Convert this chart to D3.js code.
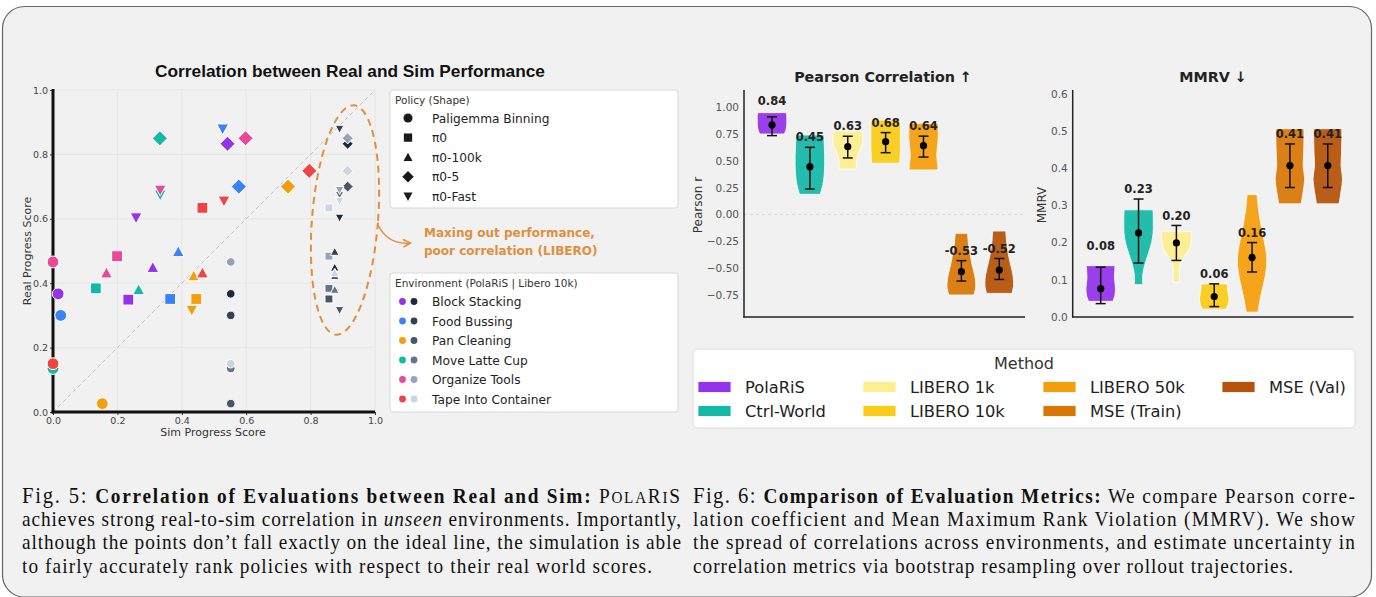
<!DOCTYPE html>
<html>
<head>
<meta charset="utf-8">
<script src="https://cdn.jsdelivr.net/npm/d3@7"></script>
<style>
  body { margin: 0; background: #fff; }
  svg { display: block; }
  text { font-family: "DejaVu Sans", sans-serif; }
</style>
</head>
<body>
<svg id="fig" width="1376" height="597"></svg>
<script>
// ---- scatter data (real vs sim progress) ----
var envs = ["Block Stacking", "Food Bussing", "Pan Cleaning", "Move Latte Cup", "Organize Tools", "Tape Into Container"];
var polarisColors = ["#9333ea", "#3b82f6", "#f59e0b", "#14b8a6", "#ec4899", "#ef4444"];
var liberoColors = ["#1e293b", "#334155", "#475569", "#64748b", "#94a3b8", "#cbd5e1"];
var policies = ["Paligemma Binning", "π0", "π0-100k", "π0-5", "π0-Fast"];
var policyShapes = ["circle", "square", "triUp", "diamond", "triDown"];

// one row per policy, one value per environment (same order as envs)
var realScore = [
  [0.367, 0.300, 0.026, 0.135, 0.466, 0.150],
  [0.349, 0.351, 0.351, 0.384, 0.484, 0.634],
  [0.449, 0.498, 0.423, 0.380, 0.432, 0.432],
  [0.833, 0.700, 0.700, 0.850, 0.850, 0.749],
  [0.603, 0.879, 0.316, 0.674, 0.689, 0.655]
];
var polarisSim = [
  [0.016, 0.024, 0.153, 0.000, 0.000, 0.000],
  [0.234, 0.364, 0.445, 0.133, 0.199, 0.464],
  [0.310, 0.389, 0.437, 0.266, 0.166, 0.464],
  [0.542, 0.577, 0.730, 0.332, 0.598, 0.796],
  [0.258, 0.527, 0.431, 0.333, 0.333, 0.531]
];
var liberoSim = [
  [0.552, 0.552, 0.552, 0.552, 0.552, 0.552],
  [0.857, 0.857, 0.857, 0.857, 0.857, 0.857],
  [0.875, 0.875, 0.875, 0.875, 0.875, 0.875],
  [0.915, 0.915, 0.915, 0.915, 0.915, 0.915],
  [0.890, 0.890, 0.890, 0.890, 0.890, 0.890]
];
var scatterTicks = [0, 0.2, 0.4, 0.6, 0.8, 1.0];

// ---- metric data (violins) ----
var methods = ["PolaRiS", "Ctrl-World", "LIBERO 1k", "LIBERO 10k", "LIBERO 50k", "MSE (Train)", "MSE (Val)"];
var methodColors = ["#9333ea", "#14b8a6", "#fdef8e", "#facc15", "#f59e0b", "#d97706", "#b45309"];

var pearsonMean = [0.835, 0.446, 0.632, 0.679, 0.641, -0.533, -0.517];
var pearsonText = ["0.84", "0.45", "0.63", "0.68", "0.64", "-0.53", "-0.52"];
var pearsonLo = [0.735, 0.238, 0.527, 0.576, 0.535, -0.620, -0.605];
var pearsonHi = [0.910, 0.626, 0.729, 0.763, 0.730, -0.430, -0.410];
var pearsonMin = [0.750, 0.188, 0.424, 0.477, 0.415, -0.750, -0.735];
var pearsonMax = [0.949, 0.741, 0.778, 0.880, 0.850, -0.175, -0.154];
// relative violin width, bottom -> top
var pearsonShape = [
  [0.82, 0.93, 0.98, 1, 1, 1, 0.98],
  [0.70, 0.88, 0.97, 1, 1, 0.97, 0.94],
  [0.58, 0.58, 0.62, 0.75, 0.92, 1, 1, 0.96],
  [0.94, 0.98, 1, 1, 1, 1, 0.97],
  [0.98, 0.95, 0.90, 0.92, 0.97, 1, 1, 0.98],
  [0.85, 0.97, 0.95, 0.85, 0.72, 0.62, 0.52, 0.46, 0.42],
  [0.86, 0.97, 0.95, 0.86, 0.73, 0.62, 0.53, 0.48, 0.44]
];
var pearsonTicks = [-0.75, -0.5, -0.25, 0, 0.25, 0.5, 0.75, 1.0];

var mmrvMean = [0.076, 0.226, 0.199, 0.055, 0.160, 0.407, 0.407];
var mmrvText = ["0.08", "0.23", "0.20", "0.06", "0.16", "0.41", "0.41"];
var mmrvLo = [0.036, 0.145, 0.152, 0.028, 0.121, 0.348, 0.348];
var mmrvHi = [0.134, 0.317, 0.246, 0.089, 0.200, 0.465, 0.465];
var mmrvMin = [0.042, 0.087, 0.094, 0.021, 0.013, 0.304, 0.304];
var mmrvMax = [0.138, 0.288, 0.230, 0.089, 0.329, 0.506, 0.506];
var mmrvShape = [
  [0.82, 0.96, 1, 0.97, 0.93, 0.95, 0.97],
  [0.28, 0.28, 0.40, 0.60, 0.80, 0.95, 1, 1, 0.98],
  [0.20, 0.20, 0.22, 0.35, 0.70, 0.95, 1, 1],
  [0.80, 0.95, 1, 0.95, 0.90, 0.88],
  [0.40, 0.55, 0.75, 0.93, 1, 0.90, 0.72, 0.55, 0.42, 0.34],
  [0.76, 0.90, 1, 0.90, 0.93, 0.95, 0.95],
  [0.76, 0.90, 1, 0.90, 0.93, 0.95, 0.95]
];
var mmrvTicks = [0, 0.1, 0.2, 0.3, 0.4, 0.5, 0.6];

var svg = d3.select("#fig");
var orange = "#e0903c";

// outer rounded frame
svg.append("rect")
  .attr("x", 2.5).attr("y", 6.5).attr("width", 1369).attr("height", 590.5)
  .attr("rx", 22).attr("fill", "#f1f1f1").attr("stroke", "#666").attr("stroke-width", 1.2);

// marker shapes, w = nominal width in px
function markerPath(shape, w) {
  var h = w / 2;
  if (shape === "circle") return d3.symbol(d3.symbolCircle, Math.PI * h * h)();
  if (shape === "square") { var s = h * 0.92; return "M" + -s + "," + -s + "H" + s + "V" + s + "H" + -s + "Z"; }
  if (shape === "triUp") return "M0," + (-h) + "L" + h + "," + (h * 0.85) + "L" + (-h) + "," + (h * 0.85) + "Z";
  if (shape === "triDown") return "M0," + h + "L" + h + "," + (-h * 0.85) + "L" + (-h) + "," + (-h * 0.85) + "Z";
  var d = h * 1.28;
  return "M0," + (-d) + "L" + d + ",0L0," + d + "L" + (-d) + ",0Z";
}

// ================= scatter =================
var sx = d3.scaleLinear().domain([0, 1]).range([53, 375]);
var sy = d3.scaleLinear().domain([0, 1]).range([412, 90]);
var sc = svg.append("g");

sc.append("text").attr("x", 350).attr("y", 77).attr("text-anchor", "middle")
  .style("font-family", "'Liberation Sans', Arial, sans-serif")
  .style("font-weight", "bold").style("font-size", "17.3px").attr("fill", "#111")
  .text("Correlation between Real and Sim Performance");

scatterTicks.slice(1).forEach(function (t) {
  sc.append("line").attr("x1", sx(t)).attr("x2", sx(t)).attr("y1", sy(0)).attr("y2", sy(1))
    .attr("stroke", "#e3e3e3").attr("stroke-width", 0.8);
  sc.append("line").attr("x1", sx(0)).attr("x2", sx(1)).attr("y1", sy(t)).attr("y2", sy(t))
    .attr("stroke", "#e3e3e3").attr("stroke-width", 0.8);
});
// ideal line
sc.append("line").attr("x1", sx(0)).attr("y1", sy(0)).attr("x2", sx(1)).attr("y2", sy(1))
  .attr("stroke", "#c4c4c4").attr("stroke-width", 1).attr("stroke-dasharray", "4,3");

var xAx = sc.append("g").attr("transform", "translate(0,412)")
  .call(d3.axisBottom(sx).tickValues(scatterTicks).tickFormat(d3.format(".1f")).tickSize(3).tickPadding(2));
var yAx = sc.append("g").attr("transform", "translate(53,0)")
  .call(d3.axisLeft(sy).tickValues(scatterTicks).tickFormat(d3.format(".1f")).tickSize(3).tickPadding(2));
[xAx, yAx].forEach(function (a) {
  a.select(".domain").remove();
  a.selectAll("line").attr("stroke", "#444");
  a.selectAll("text").attr("fill", "#444").style("font-size", "9.5px").style("font-family", "'DejaVu Sans'");
});
sc.append("line").attr("x1", 53).attr("x2", 53).attr("y1", 89).attr("y2", 413.5).attr("stroke", "#111").attr("stroke-width", 3);
sc.append("line").attr("x1", 51.5).attr("x2", 375).attr("y1", 412).attr("y2", 412).attr("stroke", "#111").attr("stroke-width", 3);

sc.append("text").attr("x", 213).attr("y", 436).attr("text-anchor", "middle")
  .style("font-size", "11px").attr("fill", "#333").text("Sim Progress Score");
sc.append("text").attr("transform", "translate(31,251) rotate(-90)").attr("text-anchor", "middle")
  .style("font-size", "11px").attr("fill", "#333").text("Real Progress Score");

// points
var pts = [];
policies.forEach(function (p, pi) {
  envs.forEach(function (e, ei) {
    pts.push({ shape: policyShapes[pi], x: polarisSim[pi][ei], y: realScore[pi][ei], c: polarisColors[ei], w: 11.8 });
  });
});
policies.forEach(function (p, pi) {
  envs.forEach(function (e, ei) {
    pts.push({ shape: policyShapes[pi], x: liberoSim[pi][ei], y: realScore[pi][ei], c: liberoColors[ei], w: 8.6 });
  });
});
sc.selectAll("path.pt").data(pts).enter().append("path").attr("class", "pt")
  .attr("d", function (d) { return markerPath(d.shape, d.w); })
  .attr("transform", function (d) { return "translate(" + sx(d.x) + "," + sy(d.y) + ")"; })
  .attr("fill", function (d) { return d.c; })
  .attr("stroke", "#fff").attr("stroke-width", 1);

// annotation
sc.append("ellipse").attr("cx", 345).attr("cy", 220).attr("rx", 33).attr("ry", 115)
  .attr("transform", "rotate(4.5,345,220)")
  .attr("fill", "none").attr("stroke", orange).attr("stroke-width", 2).attr("stroke-dasharray", "7,5");
sc.append("path").attr("d", "M378,225 Q388,245 410,243").attr("fill", "none")
  .attr("stroke", orange).attr("stroke-width", 1.5);
sc.append("path").attr("d", "M403,239.5 L410.5,243 L403.5,247").attr("fill", "none")
  .attr("stroke", orange).attr("stroke-width", 1.5);
sc.append("text").attr("x", 424).attr("y", 236.5).style("font-size", "12px").style("font-weight", "bold")
  .attr("fill", orange).text("Maxing out performance,");
sc.append("text").attr("x", 424).attr("y", 254.5).style("font-size", "12px").style("font-weight", "bold")
  .attr("fill", orange).text("poor correlation (LIBERO)");

// policy legend
var lg1 = sc.append("g");
lg1.append("rect").attr("x", 390).attr("y", 90).attr("width", 288).attr("height", 118).attr("rx", 3)
  .attr("fill", "#fff").attr("stroke", "#d8d8d8");
lg1.append("text").attr("x", 395).attr("y", 104).style("font-size", "10.5px").attr("fill", "#333").text("Policy (Shape)");
policies.forEach(function (p, i) {
  var yy = 118 + i * 19.6;
  lg1.append("path").attr("d", markerPath(policyShapes[i], 9)).attr("transform", "translate(408," + yy + ")").attr("fill", "#1a1a1a");
  lg1.append("text").attr("x", 432).attr("y", yy + 4.5).style("font-size", "12.2px").attr("fill", "#222").text(p);
});

// environment legend
var lg2 = sc.append("g");
lg2.append("rect").attr("x", 390).attr("y", 273).attr("width", 288).attr("height", 139).attr("rx", 3)
  .attr("fill", "#fff").attr("stroke", "#d8d8d8");
lg2.append("text").attr("x", 395).attr("y", 287).style("font-size", "10.5px").attr("fill", "#333")
  .text("Environment (PolaRiS | Libero 10k)");
envs.forEach(function (e, i) {
  var yy = 301.5 + i * 19.5;
  lg2.append("circle").attr("cx", 402.5).attr("cy", yy).attr("r", 3.4).attr("fill", polarisColors[i]);
  lg2.append("circle").attr("cx", 414).attr("cy", yy).attr("r", 3.4).attr("fill", liberoColors[i]);
  lg2.append("text").attr("x", 432).attr("y", yy + 4.5).style("font-size", "12.2px").attr("fill", "#222").text(e);
});

// ================= violin panels =================
function violinPanel(opt) {
  var g = svg.append("g");
  var x = d3.scaleLinear().domain([-0.74, 6.68]).range([opt.left, opt.right]);
  var y = d3.scaleLinear().domain(opt.domain).range([317, 90]);
  var half = 0.39 * (x(1) - x(0));

  g.append("text").attr("x", opt.titleX).attr("y", 81.5).attr("text-anchor", "middle")
    .style("font-size", "14.3px").style("font-weight", "bold").attr("fill", "#222").text(opt.title);

  var ax = g.append("g").attr("transform", "translate(" + opt.left + ",0)")
    .call(d3.axisLeft(y).tickValues(opt.ticks).tickFormat(d3.format(opt.fmt)).tickSize(0).tickPadding(5));
  ax.select(".domain").remove();
  ax.selectAll("text").attr("fill", "#555").style("font-size", "10.5px");

  if (opt.zeroLine) {
    g.append("line").attr("x1", opt.left).attr("x2", opt.right).attr("y1", y(0)).attr("y2", y(0))
      .attr("stroke", "#d6d6d6").attr("stroke-width", 0.8).attr("stroke-dasharray", "3,3");
  }

  g.append("line").attr("x1", opt.left).attr("x2", opt.left).attr("y1", 90).attr("y2", 317.5)
    .attr("stroke", "#222").attr("stroke-width", 1.5);
  g.append("line").attr("x1", opt.left - 0.75).attr("x2", opt.right).attr("y1", 317).attr("y2", 317)
    .attr("stroke", "#222").attr("stroke-width", 1.5);

  g.append("text").attr("transform", "translate(" + opt.labelX + ",205) rotate(-90)").attr("text-anchor", "middle")
    .style("font-size", "12px").attr("fill", "#333").text(opt.ylabel);

  methods.forEach(function (m, i) {
    var cx = x(i);
    var prof = opt.shape[i].map(function (w, k, arr) {
      return { v: opt.min[i] + (opt.max[i] - opt.min[i]) * k / (arr.length - 1), w: w };
    });
    var area = d3.area()
      .y(function (d) { return y(d.v); })
      .x0(function (d) { return cx - d.w * half; })
      .x1(function (d) { return cx + d.w * half; })
      .curve(d3.curveCatmullRom.alpha(0.5));
    g.append("path").attr("d", area(prof)).attr("fill", methodColors[i]).attr("fill-opacity", 0.93)
      .attr("stroke", "#fff").attr("stroke-width", 0.8);

    // bootstrap interval
    g.append("line").attr("x1", cx).attr("x2", cx).attr("y1", y(opt.lo[i])).attr("y2", y(opt.hi[i]))
      .attr("stroke", "#111").attr("stroke-width", 1.5);
    [opt.lo[i], opt.hi[i]].forEach(function (v) {
      g.append("line").attr("x1", cx - 5).attr("x2", cx + 5).attr("y1", y(v)).attr("y2", y(v))
        .attr("stroke", "#111").attr("stroke-width", 1.5);
    });
    g.append("circle").attr("cx", cx).attr("cy", y(opt.mean[i])).attr("r", 3.6).attr("fill", "#000");

    var gap = i === 0 ? opt.firstGap : 10;
    g.append("text").attr("x", cx).attr("y", y(opt.hi[i]) - gap).attr("dy", "0.36em")
      .attr("text-anchor", "middle").style("font-size", "11.5px").style("font-weight", "bold")
      .attr("fill", "#222").text(opt.text[i]);
  });
}

violinPanel({
  left: 744, right: 1025, domain: [-0.955, 1.16], ticks: pearsonTicks, fmt: ".2f",
  title: "Pearson Correlation ↑", titleX: 883, ylabel: "Pearson r", labelX: 702, zeroLine: true,
  mean: pearsonMean, lo: pearsonLo, hi: pearsonHi, min: pearsonMin, max: pearsonMax,
  shape: pearsonShape, text: pearsonText, firstGap: 16
});
violinPanel({
  left: 1072.7, right: 1353.5, domain: [0, 0.61], ticks: mmrvTicks, fmt: ".1f",
  title: "MMRV ↓", titleX: 1213, ylabel: "MMRV", labelX: 1046, zeroLine: false,
  mean: mmrvMean, lo: mmrvLo, hi: mmrvHi, min: mmrvMin, max: mmrvMax,
  shape: mmrvShape, text: mmrvText, firstGap: 21
});

// method legend
var lg3 = svg.append("g");
lg3.append("rect").attr("x", 693).attr("y", 349).attr("width", 662).attr("height", 79).attr("rx", 4)
  .attr("fill", "#fff").attr("stroke", "#dcdcdc");
lg3.append("text").attr("x", 1024).attr("y", 369).attr("text-anchor", "middle")
  .style("font-size", "16px").attr("fill", "#333").text("Method");
var colPatch = [698, 863, 1043, 1222];
var colText = [745, 910, 1090, 1269];
methods.forEach(function (m, i) {
  var col = Math.floor(i / 2), row = i % 2;
  var yy = 387 + row * 24;
  lg3.append("rect").attr("x", colPatch[col]).attr("y", yy - 5.5).attr("width", 33).attr("height", 11)
    .attr("fill", methodColors[i]).attr("stroke", "#fff").attr("stroke-width", 0.8);
  lg3.append("text").attr("x", colText[col]).attr("y", yy + 6).style("font-size", "16.3px")
    .attr("fill", "#222").text(m);
});

// ================= captions =================
var capLeft = [
  [["Fig. 5: ", "fig"], ["Correlation of Evaluations between Real and Sim:", "b"], [" ", ""], ["P", ""], ["OLA", "sc"], ["R", ""], ["I", "sc"], ["S", ""]],
  [["achieves strong real-to-sim correlation in ", ""], ["unseen", "i"], [" environments. Importantly,", ""]],
  [["although the points don’t fall exactly on the ideal line, the simulation is able", ""]],
  [["to fairly accurately rank policies with respect to their real world scores.", ""]]
];
var capRight = [
  [["Fig. 6: ", "fig"], ["Comparison of Evaluation Metrics:", "b"], [" We compare Pearson corre-", ""]],
  [["lation coefficient and Mean Maximum Rank Violation (MMRV). We show", ""]],
  [["the spread of correlations across environments, and estimate uncertainty in", ""]],
  [["correlation metrics via bootstrap resampling over rollout trajectories.", ""]]
];
var capBase = [503, 526.5, 549.5, 573];
var squeeze = 0.92; // caption glyphs are a little narrower than they are tall

function caption(lines, x0, widths) {
  var cg = svg.append("g").attr("transform", "translate(" + x0 + ",0) scale(" + squeeze + ",1)");
  lines.forEach(function (segs, li) {
    var t = cg.append("text").attr("x", 0).attr("y", capBase[li])
      .attr("textLength", widths[li] / squeeze).attr("lengthAdjust", "spacing")
      .style("font-family", "'Liberation Serif', 'Times New Roman', serif")
      .style("font-size", "21px").attr("fill", "#111");
    segs.forEach(function (s) {
      var ts = t.append("tspan").text(s[0]);
      if (s[1] === "fig") ts.style("font-size", "22.5px");
      if (s[1] === "b") ts.style("font-weight", "bold");
      if (s[1] === "i") ts.style("font-style", "italic");
      if (s[1] === "sc") ts.style("font-size", "16.5px");
    });
  });
}
caption(capLeft, 22, [658, 659, 659, 630]);
caption(capRight, 693, [662, 662, 662, 600]);
</script>
</body>
</html>
